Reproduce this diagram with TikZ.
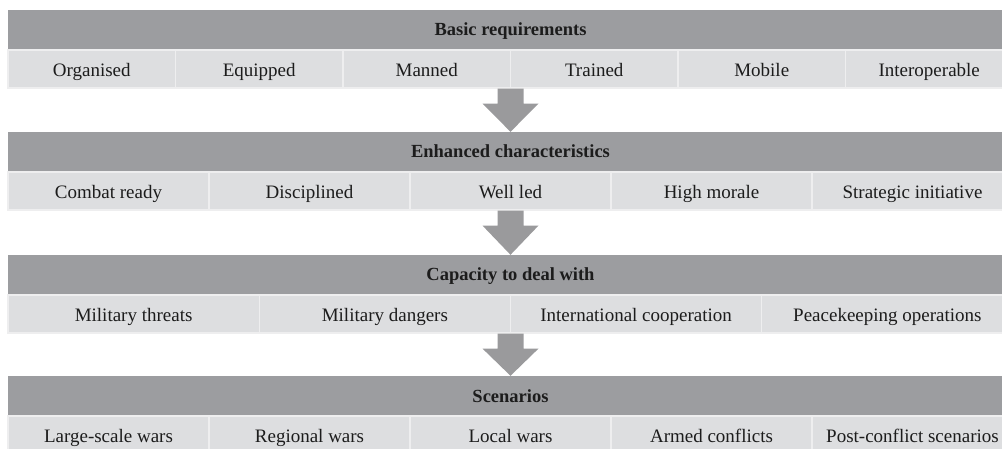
\documentclass[tikz,border=0pt]{standalone}
\usepackage{fontspec}
\setmainfont{Liberation Serif}
\definecolor{hdrgray}{HTML}{9C9DA0}
\definecolor{cellgray}{HTML}{DDDEE0}
\definecolor{linegray}{HTML}{EEEEEF}
\definecolor{arrowgray}{HTML}{9A9A9C}
\definecolor{txt}{HTML}{1C1C1C}

\begin{document}
\begin{tikzpicture}[x = {(1pt, 0pt)},
                    y = {(0pt, -1pt)},
                    header/.style = {fill = hdrgray, text = txt, minimum width = 1005pt,
                                     minimum height = 40pt, inner sep = 0pt,
                                     text height = 15pt, text depth = 3pt,
                                     font = \fontsize{18.5}{20}\selectfont\bfseries},
                    cell/.style = {fill = cellgray, draw = linegray, line width = 1.2pt,
                                   text = txt, minimum height = 38pt, inner sep = 0pt,
                                   text height = 16pt, text depth = 1pt,
                                   font = \fontsize{19}{21}\selectfont},
                    downarrow/.style = {fill = arrowgray}]

  \useasboundingbox (0, 0) rectangle (1002, 449);
  \clip (0, 0) rectangle (1002, 449);

  % headers
  \node[header] (h1) at (510.5, 30)  {Basic requirements};
  \node[header] (h2) at (510.5, 152) {Enhanced characteristics};
  \node[header] (h3) at (510.5, 275) {Capacity to deal with};
  \node[header] (h4) at (510.5, 396) {Scenarios};

  % rows of cells
  \foreach \t [count = \k] in {Organised, Equipped, Manned, Trained, Mobile, Interoperable}
    \node[cell, minimum width = 167.5pt] (c1-\k) at ({8 + 167.5 * (\k - 0.5)}, 69) {\t}; % r1
  \foreach \t [count = \k] in {Combat ready, Disciplined, Well led, High morale, Strategic initiative}
    \node[cell, minimum width = 201pt] (c2-\k) at ({8 + 201 * (\k - 0.5)}, 191) {\t}; % r2
  \foreach \t [count = \k] in {Military threats, Military dangers, International cooperation, Peacekeeping operations}
    \node[cell, minimum width = 251.25pt] (c3-\k) at ({8 + 251.25 * (\k - 0.5)}, 314) {\t}; % r3
  \foreach \t [count = \k] in {Large-scale wars, Regional wars, Local wars, Armed conflicts, Post-conflict scenarios}
    \node[cell, minimum width = 201pt] (c4-\k) at ({8 + 201 * (\k - 0.5)}, 435) {\t}; % r4

  % arrows between the bands
  \foreach \i/\j in {1/2, 2/3, 3/4} {
    \coordinate (top\i) at (h\j.north |- c\i-1.south);
    \coordinate (base\i) at ([yshift = -15pt] top\i);
    \fill[downarrow] ([xshift = -13pt] top\i) -- ([xshift = 13pt] top\i)
      -- ([xshift = 13pt] base\i) -- ([xshift = 28pt] base\i) -- (h\j.north)
      -- ([xshift = -28pt] base\i) -- ([xshift = -13pt] base\i) -- cycle;
  }
\end{tikzpicture}
\end{document}
